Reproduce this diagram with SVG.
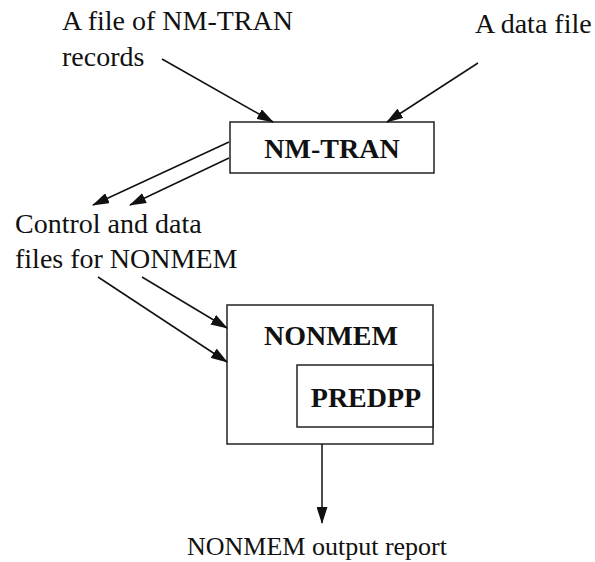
<svg xmlns="http://www.w3.org/2000/svg" width="595" height="562" viewBox="0 0 595 562">
<style>
.t{font-family:"Liberation Serif","Times New Roman",serif;font-size:28px;fill:#111}
.o{font-family:"Liberation Serif","Times New Roman",serif;font-size:26px;fill:#111}
.b{font-family:"Liberation Serif","Times New Roman",serif;font-size:28px;font-weight:bold;fill:#111;text-anchor:middle}
.box{fill:#fff;stroke:#222;stroke-width:1.5}
.c{stroke:#111;stroke-width:1.5;fill:none;marker-end:url(#ah)}
</style>
<defs>
<marker id="ah" markerUnits="userSpaceOnUse" markerWidth="17" markerHeight="11" viewBox="0 0 17 11" refX="16" refY="5.5" orient="auto">
<path d="M0,0 L17,5.5 L0,11 Z" fill="#111"/>
</marker>
</defs>
<rect width="595" height="562" fill="#fff"/>
<g id="label-nmtran-records">
<text class="t" x="62" y="30">A file of NM-TRAN</text>
<text class="t" x="62" y="66">records</text>
</g>
<g id="label-datafile"><text class="t" x="475" y="33">A data file</text></g>
<g id="node-nmtran">
<rect class="box" x="230" y="122" width="204" height="51"/>
<text class="b" x="332" y="158">NM-TRAN</text>
</g>
<g id="label-control">
<text class="t" x="15" y="233">Control and data</text>
<text class="t" x="15" y="268">files for NONMEM</text>
</g>
<g id="node-nonmem">
<rect class="box" x="227" y="305" width="206" height="139"/>
<text class="b" x="331" y="345">NONMEM</text>
</g>
<g id="node-predpp">
<rect class="box" x="297" y="365" width="136" height="62"/>
<text class="b" x="366" y="407">PREDPP</text>
</g>
<g id="label-output"><text class="o" x="187" y="555">NONMEM output report</text></g>
<g id="connectors">
<line class="c" x1="162" y1="59" x2="273" y2="122"/>
<line class="c" x1="478" y1="63" x2="387" y2="122"/>
<line class="c" x1="229" y1="142" x2="93" y2="205"/>
<line class="c" x1="229" y1="158" x2="130" y2="205"/>
<line class="c" x1="98" y1="277" x2="227" y2="362"/>
<line class="c" x1="142" y1="277" x2="227" y2="328"/>
<line class="c" x1="322" y1="444" x2="322" y2="523"/>
</g>
</svg>
